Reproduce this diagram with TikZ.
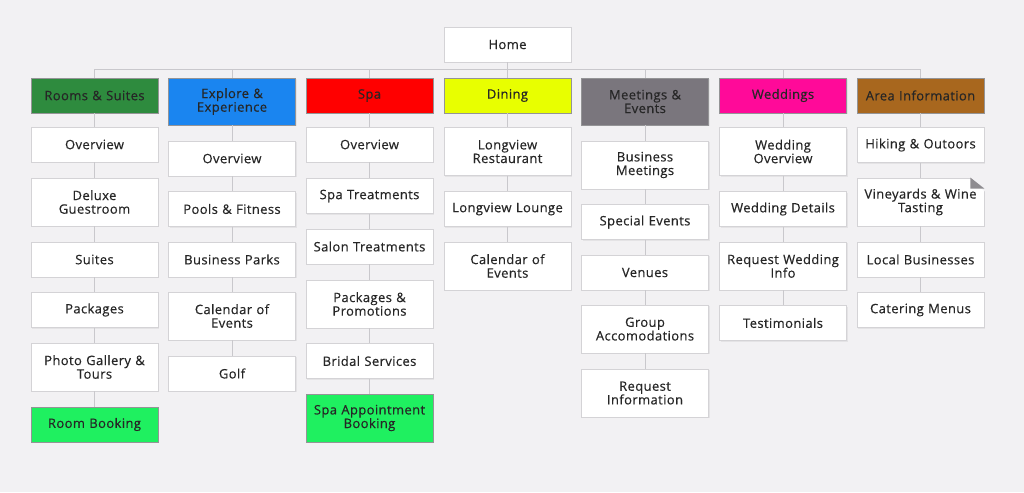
\documentclass[tikz,border=0pt]{standalone}
\usepackage{fontspec}
\setmainfont{Open Sans}[LetterSpace=3, FakeBold=0.4]
\usetikzlibrary{shadows}
\definecolor{bg}{HTML}{F2F1F3}
\definecolor{edge}{HTML}{D4D3D6}
\definecolor{wire}{HTML}{C9C8CC}
\definecolor{txt}{HTML}{262626}
\definecolor{cRooms}{HTML}{2E8B3E}
\definecolor{cExplore}{HTML}{1A85F0}
\definecolor{cSpa}{HTML}{FF0000}
\definecolor{cDining}{HTML}{E8FF00}
\definecolor{cMeet}{HTML}{7A767D}
\definecolor{cWed}{HTML}{FF0A99}
\definecolor{cArea}{HTML}{A8671E}
\definecolor{cBook}{HTML}{1FF060}
\definecolor{fold}{HTML}{8E8C90}
\tikzset{
  pg/.style={draw=edge, line width=0.8pt, fill=white, minimum width=127pt, text width=124pt,
    align=center, inner sep=0pt, text=txt, font=\fontsize{13}{13.6}\selectfont,
    drop shadow={opacity=0.12, shadow xshift=1pt, shadow yshift=-1.2pt}},
  one/.style={pg, minimum height=35pt},
  two/.style={pg, minimum height=48pt},
  hd/.style={draw=edge!70!black, fill=#1},
  wire/.style={draw=wire, line width=1pt}
}
\begin{document}
\begin{tikzpicture}[x=1pt,y=-1pt]
\fill[bg] (0,0) rectangle (1024,492);
\useasboundingbox (0,0) rectangle (1024,492);
% Home
\node[one] (home) at (507.5,44.5) {Home};
% Column 1
\node[one, hd=cRooms] (h1) at (94.5,95.5) {Rooms \& Suites};
\node[one] (a1) at (94.5,144.5) {Overview};
\node[two] (a2) at (94.5,202) {Deluxe\\Guestroom};
\node[one] (a3) at (94.5,259.5) {Suites};
\node[one] (a4) at (94.5,310) {Packages};
\node[two] (a5) at (94.5,367) {Photo Gallery \&\\Tours};
\node[one, hd=cBook] (a6) at (94.5,424.5) {Room Booking};
% Column 2
\node[two, minimum height=47pt, hd=cExplore] (h2) at (232,101.5) {Explore \&\\Experience};
\node[one] (b1) at (232,158.5) {Overview};
\node[one] (b2) at (232,209) {Pools \& Fitness};
\node[one] (b3) at (232,259.5) {Business Parks};
\node[two] (b4) at (232,316) {Calendar of\\Events};
\node[one] (b5) at (232,373.5) {Golf};
% Column 3
\node[one, hd=cSpa] (h3) at (369.5,95.5) {Spa};
\node[one] (c1) at (369.5,144.5) {Overview};
\node[one] (c2) at (369.5,196) {Spa Treatments};
\node[one] (c3) at (369.5,246.5) {Salon Treatments};
\node[two] (c4) at (369.5,304) {Packages \&\\Promotions};
\node[one] (c5) at (369.5,361) {Bridal Services};
\node[two, hd=cBook] (c6) at (369.5,418) {Spa Appointment\\Booking};
% Column 4
\node[one, hd=cDining] (h4) at (507.5,95.5) {Dining};
\node[two] (d1) at (507.5,151.5) {Longview\\Restaurant};
\node[one] (d2) at (507.5,209) {Longview Lounge};
\node[two] (d3) at (507.5,266) {Calendar of\\Events};
% Column 5
\node[two, minimum height=47pt, hd=cMeet] (h5) at (645,101.5) {Meetings \&\\Events};
\node[two] (e1) at (645,165) {Business\\Meetings};
\node[one] (e2) at (645,222) {Special Events};
\node[one] (e3) at (645,272.5) {Venues};
\node[two] (e4) at (645,329) {Group\\Accomodations};
\node[two] (e5) at (645,393) {Request\\Information};
% Column 6
\node[one, hd=cWed] (h6) at (783,95.5) {Weddings};
\node[two] (f1) at (783,151.5) {Wedding\\Overview};
\node[one] (f2) at (783,209) {Wedding Details};
\node[two] (f3) at (783,266) {Request Wedding\\Info};
\node[one] (f4) at (783,323) {Testimonials};
% Column 7
\node[one, hd=cArea] (h7) at (920.5,95.5) {Area Information};
\node[one] (g1) at (920.5,145) {Hiking \& Outoors};
\node[two] (g2) at (920.5,202) {Vineyards \& Wine\\Tasting};
\node[one] (g3) at (920.5,259.5) {Local Businesses};
\node[one] (g4) at (920.5,310) {Catering Menus};
% folded corner
\fill[bg] ([xshift=-14.5pt,yshift=0.6pt]g2.north east) -- ([xshift=1.5pt,yshift=0.6pt]g2.north east) -- ([xshift=1.5pt,yshift=-15pt]g2.north east) -- cycle;
\fill[fold] ([xshift=-14pt]g2.north east) -- ([xshift=-14pt,yshift=-11pt]g2.north east) -- ([yshift=-11pt]g2.north east) -- cycle;
% bus
\coordinate (p1) at (94.5,70);
\coordinate (p7) at (920.5,70);
\draw[wire] (home.south) -- (home.south |- p1);
\draw[wire] (h1.north) -- (p1) -- (p7) -- (h7.north);
\foreach \h in {h2,h3,h4,h5,h6} \draw[wire] (\h.north) -- (\h.north |- p1);
% columns
\draw[wire] (h1) -- (a1) (a1) -- (a2) (a2) -- (a3) (a3) -- (a4) (a4) -- (a5) (a5) -- (a6);
\draw[wire] (h2) -- (b1) (b1) -- (b2) (b2) -- (b3) (b3) -- (b4) (b4) -- (b5);
\draw[wire] (h3) -- (c1) (c1) -- (c2) (c2) -- (c3) (c3) -- (c4) (c4) -- (c5) (c5) -- (c6);
\draw[wire] (h4) -- (d1) (d1) -- (d2) (d2) -- (d3);
\draw[wire] (h5) -- (e1) (e1) -- (e2) (e2) -- (e3) (e3) -- (e4) (e4) -- (e5);
\draw[wire] (h6) -- (f1) (f1) -- (f2) (f2) -- (f3) (f3) -- (f4);
\draw[wire] (h7) -- (g1) (g1) -- (g2) (g2) -- (g3) (g3) -- (g4);
\end{tikzpicture}
\end{document}
